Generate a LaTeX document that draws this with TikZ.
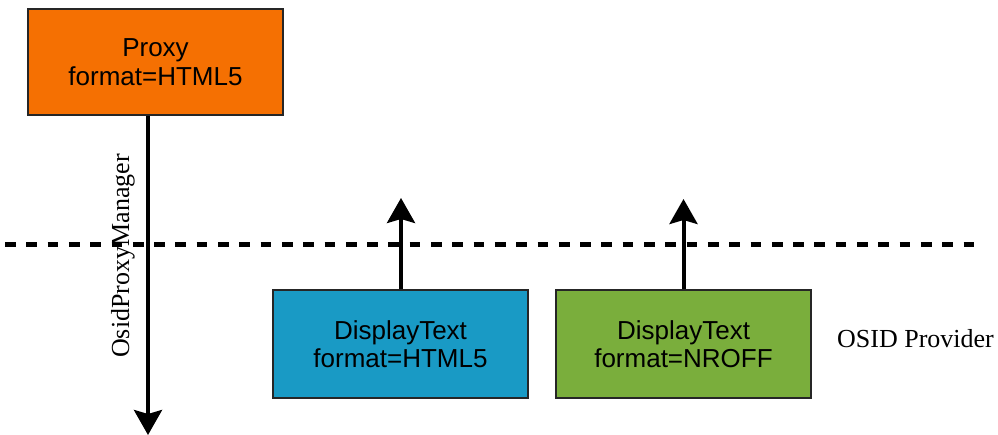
\documentclass[tikz,border=0pt]{standalone}
\usepackage{fontspec}
\setmainfont{Liberation Serif}
\newfontfamily\arialf{Liberation Sans}
\usetikzlibrary{arrows.meta}
\definecolor{proxyorange}{RGB}{245,112,2}
\definecolor{dtblue}{RGB}{25,154,197}
\definecolor{dtgreen}{RGB}{122,174,60}
\tikzset{
  box/.style={draw=black!85, line width=1.6pt, minimum width=255pt, inner sep=0pt, align=center,
    font=\arialf\fontsize{26}{28.5}\selectfont},
  arr/.style={line width=4pt, -{Stealth[length=25pt, width=28pt, inset=4pt]}},
  sep/.style={line width=5pt, dash pattern=on 10.7pt off 10.6pt},
  lbl/.style={font=\fontsize{26}{28}\selectfont, inner sep=0pt}
}
\begin{document}
\begin{tikzpicture}[x=1pt,y=-1pt]
\useasboundingbox (0,0) rectangle (998,435);
% separator
\coordinate (sl) at (5,245);
\coordinate (sr) at (981,245);
\draw[sep] (sl) -- (sr);
% boxes
\node[box, fill=proxyorange, minimum height=106pt] (proxy) at (155.5,62) {Proxy\\format=HTML5};
\node[box, fill=dtblue, minimum height=108pt] (dt1) at (400.5,344) {DisplayText\\format=HTML5};
\node[box, fill=dtgreen, minimum height=108pt] (dt2) at (683.5,344) {DisplayText\\format=NROFF};
% arrows
\coordinate (pend) at (148,435);
\draw[arr] (proxy.south -| pend) -- (pend);
\coordinate (t1) at (401,198);
\coordinate (t2) at (683.5,199);
\draw[arr] (dt1.north -| t1) -- (t1);
\draw[arr] (dt2.north -| t2) -- (t2);
% labels
\node[lbl, rotate=90, anchor=base] (opm) at (129,256) {OsidProxyManager};
\node[lbl, anchor=base] (prov) at (915.5,348) {OSID Provider};
\end{tikzpicture}
\end{document}
